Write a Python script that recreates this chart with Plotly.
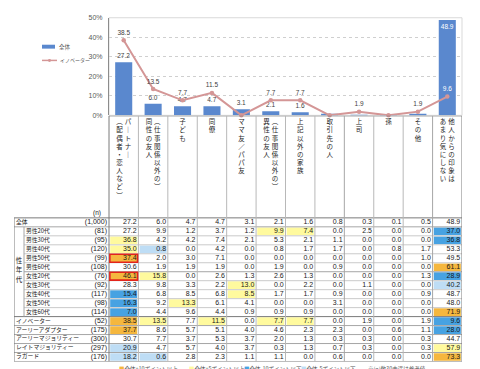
import plotly.graph_objects as go

W, H = 480, 369

# ---------------- data ----------------
categories = ["パートナー\n（配偶者・恋人など）", "（仕事関係以外の）\n同性の友人", "子ども", "同僚",
              "ママ友／パパ友", "（仕事関係以外の）\n異性の友人", "上記以外の家族", "取引先の人",
              "上司", "孫", "その他", "他人からの印象は\nあまり気にしない"]
overall = [27.2, 6.0, 4.7, 4.7, 3.1, 2.1, 1.6, 0.8, 0.3, 0.1, 0.5, 48.9]
innovator = [38.5, 13.5, 7.7, 11.5, 0.0, 7.7, 7.7, 0.0, 1.9, 0.0, 1.9, 9.6]
series_names = ["全体", "イノベーター"]
y_ticks = [0, 10, 20, 30, 40, 50]

row_labels = ["全体", "男性20代", "男性30代", "男性40代", "男性50代", "男性60代", "女性20代", "女性30代",
              "女性40代", "女性50代", "女性60代", "イノベーター", "アーリーアダプター",
              "アーリーマジョリティー", "レイトマジョリティー", "ラガード"]
row_n = ["(1,000)", "(81)", "(95)", "(120)", "(99)", "(108)", "(76)", "(92)", "(117)", "(98)",
         "(114)", "(52)", "(175)", "(300)", "(297)", "(176)"]
group_label = "性年代"
group_rows = (1, 10)
table = [
    [27.2, 6.0, 4.7, 4.7, 3.1, 2.1, 1.6, 0.8, 0.3, 0.1, 0.5, 48.9],
    [27.2, 9.9, 1.2, 3.7, 1.2, 9.9, 7.4, 0.0, 2.5, 0.0, 0.0, 37.0],
    [36.8, 4.2, 4.2, 7.4, 2.1, 5.3, 2.1, 1.1, 0.0, 0.0, 0.0, 36.8],
    [35.0, 0.8, 0.0, 4.2, 0.0, 0.8, 1.7, 1.7, 0.0, 0.8, 1.7, 53.3],
    [37.4, 2.0, 3.0, 7.1, 0.0, 0.0, 0.0, 0.0, 0.0, 0.0, 1.0, 49.5],
    [30.6, 1.9, 1.9, 1.9, 0.0, 1.9, 0.0, 0.9, 0.0, 0.0, 0.0, 61.1],
    [46.1, 15.8, 0.0, 2.6, 1.3, 2.6, 1.3, 0.0, 0.0, 0.0, 1.3, 28.9],
    [28.3, 9.8, 3.3, 2.2, 13.0, 0.0, 2.2, 0.0, 1.1, 0.0, 0.0, 40.2],
    [15.4, 6.8, 8.5, 6.8, 8.5, 1.7, 1.7, 0.9, 0.0, 0.0, 0.9, 48.7],
    [16.3, 9.2, 13.3, 6.1, 4.1, 0.0, 0.0, 3.1, 0.0, 0.0, 0.0, 48.0],
    [7.0, 4.4, 9.6, 4.4, 0.9, 0.9, 0.9, 0.0, 0.0, 0.0, 0.0, 71.9],
    [38.5, 13.5, 7.7, 11.5, 0.0, 7.7, 7.7, 0.0, 1.9, 0.0, 1.9, 9.6],
    [37.7, 8.6, 5.7, 5.1, 4.0, 4.6, 2.3, 2.3, 0.0, 0.6, 1.1, 28.0],
    [30.7, 7.7, 3.7, 5.3, 3.7, 2.0, 1.3, 0.3, 0.3, 0.0, 0.3, 44.7],
    [20.9, 4.7, 5.7, 4.0, 3.7, 0.3, 1.3, 0.7, 0.3, 0.0, 0.3, 57.9],
    [18.2, 0.6, 2.8, 2.3, 1.1, 1.1, 0.0, 0.6, 0.0, 0.0, 0.0, 73.3],
]
marked_cells = [(4, 0), (6, 0)]
key_labels = ["全体+10ポイント以上", "全体+5ポイント以上", "全体-10ポイント以下", "全体-5ポイント以下"]
note_label = "※(n)数30未満は参考値"

# ---------------- styling / layout constants ----------------
FONT = "Liberation Sans, Arial, Noto Sans CJK JP, sans-serif"
JFONT = "Noto Sans CJK JP, sans-serif"
BAR_C = "#5A88CE"
LINE_C = "#D49696"
ORANGE, YELLOW, BLUE, LBLUE = "#F5B73E", "#FFFA9E", "#47A2E2", "#BEDDF5"
KEY_COLORS = [ORANGE, YELLOW, BLUE, LBLUE]

PLOT_L, PLOT_R, PLOT_T, PLOT_B = 109, 462, 14, 113.5
TABLE_L, HEAD_T, BODY_T, RH = 14, 114, 218, 9.15
NCOL = len(categories)
NROW = len(row_labels)
CW = (PLOT_R - PLOT_L) / NCOL


def px(x):
    return x / W


def py(y):
    return 1 - y / H


def xu(p):  # pixel -> table column units
    return -0.5 + (p - PLOT_L) / CW


def yu(p):  # pixel -> table row units
    return (p - BODY_T) / RH


fig = go.Figure()

# ---------------- chart ----------------
bar_text = [f"{v:.1f}" if v >= 1 else "" for v in overall]
bar_pos = ["outside"] * (NCOL - 1) + ["inside"]
fig.add_trace(go.Bar(
    x=list(range(NCOL)), y=overall, width=0.58, marker=dict(color=BAR_C, line=dict(width=0)),
    text=bar_text, textposition=bar_pos, insidetextanchor="end", constraintext="none", textangle=0,
    textfont=dict(size=6.5, color=["#404040"] * (NCOL - 1) + ["white"], family=FONT),
    cliponaxis=False, xaxis="x", yaxis="y", name=series_names[0]))
line_text = [f"{v:.1f}" if v >= 1 else "" for v in innovator]
fig.add_trace(go.Scatter(
    x=list(range(NCOL)), y=innovator, mode="lines+markers+text",
    line=dict(color=LINE_C, width=2), marker=dict(color=LINE_C, size=4.5),
    text=line_text, textposition="top center",
    textfont=dict(size=6.5, color=["#404040"] * (NCOL - 1) + ["white"], family=FONT),
    cliponaxis=False, xaxis="x", yaxis="y", name=series_names[1]))

shapes = []
annotations = []

# plot area border
shapes.append(dict(type="rect", xref="x domain", yref="y domain", x0=0, x1=1, y0=0, y1=1,
                   line=dict(color="#D9D9D9", width=1), layer="below"))

# chart legend
shapes.append(dict(type="rect", xref="paper", yref="paper", x0=px(42), x1=px(55), y0=py(45.5), y1=py(41.5),
                   fillcolor=BAR_C, line=dict(width=0)))
shapes.append(dict(type="line", xref="paper", yref="paper", x0=px(42), x1=px(57), y0=py(57.5), y1=py(57.5),
                   line=dict(color=LINE_C, width=1.5)))
shapes.append(dict(type="circle", xref="paper", yref="paper", x0=px(48), x1=px(51), y0=py(59), y1=py(56),
                   fillcolor=LINE_C, line=dict(width=0)))
annotations.append(dict(xref="paper", yref="paper", x=px(57), y=py(43.5), text=series_names[0],
                        showarrow=False, xanchor="left", yanchor="middle",
                        font=dict(size=5.5, color="#595959", family=JFONT)))
annotations.append(dict(xref="paper", yref="paper", x=px(57.5), y=py(57.5), text=series_names[1],
                        showarrow=False, xanchor="left", yanchor="middle",
                        font=dict(size=5, color="#595959", family=JFONT)))

# ---------------- table ----------------
LIGHT, MID, DARK = "#CACACA", "#A6A6A6", "#7A7A7A"


def hline(r, x0, x1, color, w=1):
    shapes.append(dict(type="line", xref="x2", yref="y2", x0=x0, x1=x1, y0=r, y1=r,
                       line=dict(color=color, width=w)))


def vline(c, y0, y1, color, w=1):
    shapes.append(dict(type="line", xref="x2", yref="y2", x0=c, x1=c, y0=y0, y1=y1,
                       line=dict(color=color, width=w)))


# cell fills
for r in range(1, NROW):
    for c in range(NCOL):
        d = table[r][c] - table[0][c]
        col = None
        if d >= 10:
            col = ORANGE
        elif d >= 5:
            col = YELLOW
        elif d <= -10:
            col = BLUE
        elif d <= -5:
            col = LBLUE
        if col:
            shapes.append(dict(type="rect", xref="x2", yref="y2", x0=c - 0.5 + 0.04, x1=c + 0.5 - 0.04,
                               y0=r + 0.07, y1=r + 1 - 0.07, fillcolor=col, line=dict(width=0),
                               layer="below"))

# horizontal row lines
x_grp = xu(24)
for r in range(NROW + 1):
    inside_grp = group_rows[0] < r <= group_rows[1]
    x0 = x_grp if inside_grp else xu(TABLE_L)
    if r in (0, 11, NROW):
        color = DARK
    elif r in (1, 6) or r > 11:
        color = MID
    else:
        color = LIGHT
    hline(r, x0, NCOL - 0.5, color)
hline(yu(HEAD_T), -0.5, NCOL - 0.5, DARK)

# vertical lines
for k in range(NCOL + 1):
    c = k - 0.5
    if k in (0, NCOL):
        color = DARK
    elif k in (8, 11):
        color = MID
    else:
        color = "#B8B8B8"
    vline(c, yu(HEAD_T), NROW, color)
vline(xu(TABLE_L), 0, NROW, DARK)
vline(x_grp, group_rows[0], group_rows[1] + 1, MID)

# red marked cells
for (r, c) in marked_cells:
    shapes.append(dict(type="rect", xref="x2", yref="y2", x0=c - 0.5 + 0.03, x1=c + 0.5 - 0.03,
                       y0=r + 0.06, y1=r + 1 - 0.06, line=dict(color="#E3241B", width=1.6)))

# numbers
nx, ny, nt = [], [], []
for r in range(NROW):
    for c in range(NCOL):
        nx.append(c + 0.5 - 0.06)
        ny.append(r + 0.5)
        nt.append(f"{table[r][c]:.1f}")
fig.add_trace(go.Scatter(x=nx, y=ny, text=nt, mode="text", textposition="middle left",
                         textfont=dict(size=7, color="#1A1A1A", family=FONT),
                         xaxis="x2", yaxis="y2", cliponaxis=False, hoverinfo="skip"))

# row labels
lx = [xu(26) if group_rows[0] <= r <= group_rows[1] else xu(16) for r in range(NROW)]
fig.add_trace(go.Scatter(x=lx, y=[r + 0.5 for r in range(NROW)], text=row_labels, mode="text",
                         textposition="middle right",
                         textfont=dict(size=5.8, color="#1A1A1A", family=JFONT),
                         xaxis="x2", yaxis="y2", cliponaxis=False, hoverinfo="skip"))
fig.add_trace(go.Scatter(x=[xu(107)] * NROW, y=[r + 0.5 for r in range(NROW)], text=row_n, mode="text",
                         textposition="middle left",
                         textfont=dict(size=7, color="#1A1A1A", family=FONT),
                         xaxis="x2", yaxis="y2", cliponaxis=False, hoverinfo="skip"))
# (n) header
fig.add_trace(go.Scatter(x=[xu(97)], y=[yu(213)], text=["(n)"], mode="text", textposition="middle center",
                         textfont=dict(size=6.5, color="#1A1A1A", family=FONT),
                         xaxis="x2", yaxis="y2", cliponaxis=False, hoverinfo="skip"))

# group label (vertical)
gmid = (group_rows[0] + group_rows[1] + 1) / 2 - 0.1
fig.add_trace(go.Scatter(x=[xu(19)] * len(group_label),
                         y=[gmid + (i - (len(group_label) - 1) / 2) * 1.05 for i in range(len(group_label))],
                         text=list(group_label), mode="text", textposition="middle center",
                         textfont=dict(size=6.5, color="#1A1A1A", family=JFONT),
                         xaxis="x2", yaxis="y2", cliponaxis=False, hoverinfo="skip"))

# category header (vertical writing)
VMAP = {"ー": "｜", "（": "︵", "）": "︶"}
hx, hy, ht = [], [], []
step = 8.3 / RH
for c, cat in enumerate(categories):
    lines = cat.split("\n")
    n = len(lines)
    for j, ln in enumerate(lines):
        off = 0 if n == 1 else (4.2 if j == 0 else -4.2)
        for k, ch in enumerate(ln):
            hx.append(c + off / CW)
            hy.append(yu(121) + k * step)
            ht.append(VMAP.get(ch, ch))
fig.add_trace(go.Scatter(x=hx, y=hy, text=ht, mode="text", textposition="middle center",
                         textfont=dict(size=6.5, color="#262626", family=JFONT),
                         xaxis="x2", yaxis="y2", cliponaxis=False, hoverinfo="skip"))

# bottom key (cut off at page edge)
key_x = [117, 187, 242, 299]
for kx, lab, kc in zip(key_x, key_labels, KEY_COLORS):
    annotations.append(dict(xref="paper", yref="paper", x=px(kx), y=py(372), xanchor="left", yanchor="middle",
                            showarrow=False,
                            text=f'<span style="color:{kc}">■</span>{lab}',
                            font=dict(size=5.5, color="#595959", family=JFONT)))
annotations.append(dict(xref="paper", yref="paper", x=px(366), y=py(372), xanchor="left", yanchor="middle",
                        showarrow=False, text=note_label,
                        font=dict(size=5.5, color="#595959", family=JFONT)))

# ---------------- layout ----------------
fig.update_layout(
    width=W, height=H, margin=dict(l=0, r=0, t=0, b=0),
    paper_bgcolor="white", plot_bgcolor="white", showlegend=False,
    font=dict(family=FONT),
    xaxis=dict(domain=[px(PLOT_L), px(PLOT_R)], range=[-0.5, NCOL - 0.5], visible=False, fixedrange=True),
    yaxis=dict(domain=[py(PLOT_B), py(PLOT_T)], range=[0, 50], tickvals=y_ticks,
               ticktext=[f"{t}%" for t in y_ticks], tickfont=dict(size=7, color="#595959", family=FONT),
               showline=True, linecolor="#8C8C8C", linewidth=1, ticks="",
               showgrid=True, gridcolor="#CFCFCF", griddash="dot", gridwidth=1, zeroline=False,
               ticklabelstandoff=4),
    xaxis2=dict(domain=[px(TABLE_L), px(PLOT_R)], range=[xu(TABLE_L), NCOL - 0.5], visible=False,
                anchor="y2"),
    yaxis2=dict(domain=[py(BODY_T + NROW * RH), py(HEAD_T)], range=[NROW, yu(HEAD_T)], visible=False,
                anchor="x2"),
    shapes=shapes, annotations=annotations,
)

fig.write_html("out.html", config={"displayModeBar": False},
               post_script="document.body.style.margin='0';document.body.style.overflow='hidden';")
